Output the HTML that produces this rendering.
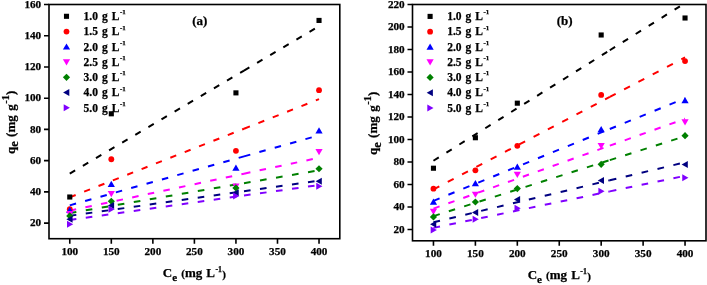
<!DOCTYPE html>
<html><head><meta charset="utf-8"><style>
html,body{margin:0;padding:0;background:#fff;}
svg{display:block;will-change:transform;}
text{font-family:"Liberation Serif",serif;font-weight:bold;fill:#000;stroke:#000;stroke-width:0.25px;}
</style></head><body>
<svg width="707" height="285" viewBox="0 0 707 285">
<rect width="707" height="285" fill="#fff"/>
<clipPath id="ca"><rect x="49.0" y="4.5" width="290.8" height="234.2"/></clipPath>
<g clip-path="url(#ca)" fill="none" stroke-width="2.0">
<line x1="69.77" y1="173.53" x2="244.00" y2="70.58" stroke="#000000" stroke-dasharray="6.24 8.98"/>
<line x1="244.00" y1="70.58" x2="319.03" y2="26.25" stroke="#000000" stroke-dasharray="6.24 8.98"/>
<line x1="69.77" y1="197.35" x2="244.00" y2="128.73" stroke="#ff0000" stroke-dasharray="6.33 9.11"/>
<line x1="244.00" y1="128.73" x2="319.03" y2="99.18" stroke="#ff0000" stroke-dasharray="6.33 9.11"/>
<line x1="69.77" y1="205.35" x2="244.00" y2="156.38" stroke="#0000ff" stroke-dasharray="6.54 9.41"/>
<line x1="244.00" y1="156.38" x2="319.03" y2="135.30" stroke="#0000ff" stroke-dasharray="6.54 9.41"/>
<line x1="69.77" y1="210.65" x2="244.00" y2="173.66" stroke="#ff00ff" stroke-dasharray="6.54 9.41"/>
<line x1="244.00" y1="173.66" x2="319.03" y2="157.73" stroke="#ff00ff" stroke-dasharray="6.54 9.41"/>
<line x1="69.77" y1="213.10" x2="244.00" y2="183.15" stroke="#008000" stroke-dasharray="6.66 9.58"/>
<line x1="244.00" y1="183.15" x2="319.03" y2="170.25" stroke="#008000" stroke-dasharray="6.66 9.58"/>
<line x1="69.77" y1="215.80" x2="244.00" y2="191.26" stroke="#000080" stroke-dasharray="6.62 9.53"/>
<line x1="244.00" y1="191.26" x2="319.03" y2="180.69" stroke="#000080" stroke-dasharray="6.62 9.53"/>
<line x1="69.77" y1="219.90" x2="244.00" y2="195.53" stroke="#8000ff" stroke-dasharray="6.62 9.53"/>
<line x1="244.00" y1="195.53" x2="319.03" y2="185.03" stroke="#8000ff" stroke-dasharray="6.62 9.53"/>
</g>
<rect x="67.22" y="194.46" width="5.1" height="5.1" fill="#000000"/>
<rect x="108.76" y="111.24" width="5.1" height="5.1" fill="#000000"/>
<rect x="233.39" y="90.32" width="5.1" height="5.1" fill="#000000"/>
<rect x="316.48" y="17.88" width="5.1" height="5.1" fill="#000000"/>
<circle cx="69.77" cy="209.19" r="2.9" fill="#ff0000"/>
<circle cx="111.31" cy="159.23" r="2.9" fill="#ff0000"/>
<circle cx="235.94" cy="150.80" r="2.9" fill="#ff0000"/>
<circle cx="319.03" cy="90.22" r="2.9" fill="#ff0000"/>
<polygon points="69.77,206.72 66.17,212.92 73.37,212.92" fill="#0000ff"/>
<polygon points="111.31,180.80 107.71,187.00 114.91,187.00" fill="#0000ff"/>
<polygon points="235.94,164.56 232.34,170.76 239.54,170.76" fill="#0000ff"/>
<polygon points="319.03,127.25 315.43,133.45 322.63,133.45" fill="#0000ff"/>
<polygon points="69.77,217.13 66.17,210.93 73.37,210.93" fill="#ff00ff"/>
<polygon points="111.31,197.14 107.71,190.94 114.91,190.94" fill="#ff00ff"/>
<polygon points="235.94,189.81 232.34,183.61 239.54,183.61" fill="#ff00ff"/>
<polygon points="319.03,155.14 315.43,148.94 322.63,148.94" fill="#ff00ff"/>
<polygon points="69.77,212.30 73.37,215.90 69.77,219.50 66.17,215.90" fill="#008000"/>
<polygon points="111.31,197.63 114.91,201.23 111.31,204.83 107.71,201.23" fill="#008000"/>
<polygon points="235.94,184.36 239.54,187.96 235.94,191.56 232.34,187.96" fill="#008000"/>
<polygon points="319.03,165.15 322.63,168.75 319.03,172.35 315.43,168.75" fill="#008000"/>
<polygon points="66.36,219.34 72.56,215.84 72.56,222.84" fill="#000080"/>
<polygon points="107.90,205.60 114.10,202.10 114.10,209.10" fill="#000080"/>
<polygon points="232.53,192.64 238.73,189.14 238.73,196.14" fill="#000080"/>
<polygon points="315.62,181.24 321.82,177.74 321.82,184.74" fill="#000080"/>
<polygon points="73.18,224.18 66.98,220.68 66.98,227.68" fill="#8000ff"/>
<polygon points="114.72,209.19 108.52,205.69 108.52,212.69" fill="#8000ff"/>
<polygon points="239.35,196.08 233.15,192.58 233.15,199.58" fill="#8000ff"/>
<polygon points="322.44,186.24 316.24,182.74 316.24,189.74" fill="#8000ff"/>
<rect x="49.0" y="4.5" width="290.80" height="234.20" fill="none" stroke="#000" stroke-width="1.6"/>
<path d="M69.77 238.7V243.70M111.31 238.7V243.70M152.86 238.7V243.70M194.40 238.7V243.70M235.94 238.7V243.70M277.49 238.7V243.70M319.03 238.7V243.70M49.0 223.09H44.00M49.0 191.86H44.00M49.0 160.63H44.00M49.0 129.41H44.00M49.0 98.18H44.00M49.0 66.95H44.00M49.0 35.73H44.00M49.0 4.50H44.00" stroke="#000" stroke-width="1.6" fill="none"/>
<text x="69.77" y="254.70" text-anchor="middle" font-size="11.2">100</text>
<text x="111.31" y="254.70" text-anchor="middle" font-size="11.2">150</text>
<text x="152.86" y="254.70" text-anchor="middle" font-size="11.2">200</text>
<text x="194.40" y="254.70" text-anchor="middle" font-size="11.2">250</text>
<text x="235.94" y="254.70" text-anchor="middle" font-size="11.2">300</text>
<text x="277.49" y="254.70" text-anchor="middle" font-size="11.2">350</text>
<text x="319.03" y="254.70" text-anchor="middle" font-size="11.2">400</text>
<text x="41.20" y="226.39" text-anchor="end" font-size="11.2">20</text>
<text x="41.20" y="195.16" text-anchor="end" font-size="11.2">40</text>
<text x="41.20" y="163.93" text-anchor="end" font-size="11.2">60</text>
<text x="41.20" y="132.71" text-anchor="end" font-size="11.2">80</text>
<text x="41.20" y="101.48" text-anchor="end" font-size="11.2">100</text>
<text x="41.20" y="70.25" text-anchor="end" font-size="11.2">120</text>
<text x="41.20" y="39.03" text-anchor="end" font-size="11.2">140</text>
<text x="41.20" y="7.80" text-anchor="end" font-size="11.2">160</text>
<text x="199.8" y="24.6" text-anchor="middle" font-size="13">(a)</text>
<text x="194.40" y="276.8" text-anchor="middle" font-size="13" word-spacing="0.9">C<tspan font-size="11.0" dy="4.0">e</tspan><tspan dy="-4.0"> </tspan><tspan font-size="11">(</tspan>mg L<tspan font-size="7.8" dy="-5" dx="0.4">-1</tspan><tspan dy="5.8" dx="0.4" font-size="11">)</tspan></text>
<text transform="translate(14.8 122.4) rotate(-90)" x="0" y="0" text-anchor="middle" font-size="13" word-spacing="1.2">q<tspan font-size="12.3" dy="3.4">e</tspan><tspan dy="-3.4"> (mg g</tspan><tspan font-size="10.5" dx="0.5" dy="-6.3">-1</tspan><tspan dy="6.3">)</tspan></text>
<rect x="63.95" y="13.75" width="5.1" height="5.1" fill="#000000"/>
<text x="83.6" y="20.10" font-size="11.5" word-spacing="1.1">1.0 g L<tspan font-size="6.9" dx="0.6" dy="-5.8">-1</tspan></text>
<circle cx="66.50" cy="31.55" r="2.9" fill="#ff0000"/>
<text x="83.6" y="35.35" font-size="11.5" word-spacing="1.1">1.5 g L<tspan font-size="6.9" dx="0.6" dy="-5.8">-1</tspan></text>
<polygon points="66.50,43.39 62.90,49.59 70.10,49.59" fill="#0000ff"/>
<text x="83.6" y="50.60" font-size="11.5" word-spacing="1.1">2.0 g L<tspan font-size="6.9" dx="0.6" dy="-5.8">-1</tspan></text>
<polygon points="66.50,65.46 62.90,59.26 70.10,59.26" fill="#ff00ff"/>
<text x="83.6" y="65.85" font-size="11.5" word-spacing="1.1">2.5 g L<tspan font-size="6.9" dx="0.6" dy="-5.8">-1</tspan></text>
<polygon points="66.50,73.70 70.10,77.30 66.50,80.90 62.90,77.30" fill="#008000"/>
<text x="83.6" y="81.10" font-size="11.5" word-spacing="1.1">3.0 g L<tspan font-size="6.9" dx="0.6" dy="-5.8">-1</tspan></text>
<polygon points="63.09,92.55 69.29,89.05 69.29,96.05" fill="#000080"/>
<text x="83.6" y="96.35" font-size="11.5" word-spacing="1.1">4.0 g L<tspan font-size="6.9" dx="0.6" dy="-5.8">-1</tspan></text>
<polygon points="69.91,107.80 63.71,104.30 63.71,111.30" fill="#8000ff"/>
<text x="83.6" y="111.60" font-size="11.5" word-spacing="1.1">5.0 g L<tspan font-size="6.9" dx="0.6" dy="-5.8">-1</tspan></text>
<clipPath id="cb"><rect x="412.5" y="4.5" width="293.5" height="236.3"/></clipPath>
<g clip-path="url(#cb)" fill="none" stroke-width="2.0">
<line x1="433.46" y1="160.73" x2="609.80" y2="50.25" stroke="#000000" stroke-dasharray="6.27 9.02"/>
<line x1="609.80" y1="50.25" x2="685.04" y2="3.11" stroke="#000000" stroke-dasharray="6.27 9.02"/>
<line x1="433.46" y1="189.35" x2="609.80" y2="96.90" stroke="#ff0000" stroke-dasharray="6.62 9.53"/>
<line x1="609.80" y1="96.90" x2="685.04" y2="57.45" stroke="#ff0000" stroke-dasharray="6.62 9.53"/>
<line x1="433.46" y1="200.82" x2="609.80" y2="128.98" stroke="#0000ff" stroke-dasharray="6.61 9.51"/>
<line x1="609.80" y1="128.98" x2="685.04" y2="98.33" stroke="#0000ff" stroke-dasharray="6.61 9.51"/>
<line x1="433.46" y1="208.60" x2="609.80" y2="145.65" stroke="#ff00ff" stroke-dasharray="6.49 9.33"/>
<line x1="609.80" y1="145.65" x2="685.04" y2="118.80" stroke="#ff00ff" stroke-dasharray="6.49 9.33"/>
<line x1="433.46" y1="216.13" x2="609.80" y2="160.12" stroke="#008000" stroke-dasharray="6.60 9.50"/>
<line x1="609.80" y1="160.12" x2="685.04" y2="136.22" stroke="#008000" stroke-dasharray="6.60 9.50"/>
<line x1="433.46" y1="222.24" x2="609.80" y2="180.26" stroke="#000080" stroke-dasharray="6.70 9.64"/>
<line x1="609.80" y1="180.26" x2="685.04" y2="162.34" stroke="#000080" stroke-dasharray="6.70 9.64"/>
<line x1="433.46" y1="227.88" x2="609.80" y2="191.37" stroke="#8000ff" stroke-dasharray="6.66 9.58"/>
<line x1="609.80" y1="191.37" x2="685.04" y2="175.80" stroke="#8000ff" stroke-dasharray="6.66 9.58"/>
</g>
<rect x="430.91" y="165.67" width="5.1" height="5.1" fill="#000000"/>
<rect x="472.84" y="135.18" width="5.1" height="5.1" fill="#000000"/>
<rect x="514.77" y="100.63" width="5.1" height="5.1" fill="#000000"/>
<rect x="598.63" y="32.44" width="5.1" height="5.1" fill="#000000"/>
<rect x="682.49" y="15.45" width="5.1" height="5.1" fill="#000000"/>
<circle cx="433.46" cy="188.70" r="2.9" fill="#ff0000"/>
<circle cx="475.39" cy="170.36" r="2.9" fill="#ff0000"/>
<circle cx="517.32" cy="145.83" r="2.9" fill="#ff0000"/>
<circle cx="601.18" cy="94.97" r="2.9" fill="#ff0000"/>
<circle cx="685.04" cy="61.10" r="2.9" fill="#ff0000"/>
<polygon points="433.46,198.57 429.86,204.77 437.06,204.77" fill="#0000ff"/>
<polygon points="475.39,180.00 471.79,186.20 478.99,186.20" fill="#0000ff"/>
<polygon points="517.32,163.46 513.72,169.66 520.92,169.66" fill="#0000ff"/>
<polygon points="601.18,125.99 597.58,132.19 604.78,132.19" fill="#0000ff"/>
<polygon points="685.04,96.96 681.44,103.16 688.64,103.16" fill="#0000ff"/>
<polygon points="433.46,215.07 429.86,208.87 437.06,208.87" fill="#ff00ff"/>
<polygon points="475.39,197.85 471.79,191.65 478.99,191.65" fill="#ff00ff"/>
<polygon points="517.32,177.93 513.72,171.73 520.92,171.73" fill="#ff00ff"/>
<polygon points="601.18,149.24 597.58,143.04 604.78,143.04" fill="#ff00ff"/>
<polygon points="685.04,125.38 681.44,119.18 688.64,119.18" fill="#ff00ff"/>
<polygon points="433.46,213.34 437.06,216.94 433.46,220.54 429.86,216.94" fill="#008000"/>
<polygon points="475.39,198.38 478.99,201.98 475.39,205.58 471.79,201.98" fill="#008000"/>
<polygon points="517.32,184.99 520.92,188.59 517.32,192.19 513.72,188.59" fill="#008000"/>
<polygon points="601.18,160.68 604.78,164.28 601.18,167.88 597.58,164.28" fill="#008000"/>
<polygon points="685.04,132.10 688.64,135.70 685.04,139.30 681.44,135.70" fill="#008000"/>
<polygon points="430.05,224.37 436.25,220.87 436.25,227.87" fill="#000080"/>
<polygon points="471.98,212.56 478.18,209.06 478.18,216.06" fill="#000080"/>
<polygon points="513.91,199.62 520.11,196.12 520.11,203.12" fill="#000080"/>
<polygon points="597.77,180.49 603.97,176.99 603.97,183.99" fill="#000080"/>
<polygon points="681.63,164.40 687.83,160.90 687.83,167.90" fill="#000080"/>
<polygon points="436.87,230.00 430.67,226.50 430.67,233.50" fill="#8000ff"/>
<polygon points="478.80,219.20 472.60,215.70 472.60,222.70" fill="#8000ff"/>
<polygon points="520.73,208.28 514.53,204.78 514.53,211.78" fill="#8000ff"/>
<polygon points="604.59,191.29 598.39,187.79 598.39,194.79" fill="#8000ff"/>
<polygon points="688.45,177.79 682.25,174.29 682.25,181.29" fill="#8000ff"/>
<rect x="412.5" y="4.5" width="293.50" height="236.30" fill="none" stroke="#000" stroke-width="1.6"/>
<path d="M433.46 240.8V245.80M475.39 240.8V245.80M517.32 240.8V245.80M559.25 240.8V245.80M601.18 240.8V245.80M643.11 240.8V245.80M685.04 240.8V245.80M412.5 229.55H407.50M412.5 207.04H407.50M412.5 184.54H407.50M412.5 162.03H407.50M412.5 139.53H407.50M412.5 117.02H407.50M412.5 94.52H407.50M412.5 72.01H407.50M412.5 49.51H407.50M412.5 27.00H407.50M412.5 4.50H407.50" stroke="#000" stroke-width="1.6" fill="none"/>
<text x="433.46" y="256.80" text-anchor="middle" font-size="11.2">100</text>
<text x="475.39" y="256.80" text-anchor="middle" font-size="11.2">150</text>
<text x="517.32" y="256.80" text-anchor="middle" font-size="11.2">200</text>
<text x="559.25" y="256.80" text-anchor="middle" font-size="11.2">250</text>
<text x="601.18" y="256.80" text-anchor="middle" font-size="11.2">300</text>
<text x="643.11" y="256.80" text-anchor="middle" font-size="11.2">350</text>
<text x="685.04" y="256.80" text-anchor="middle" font-size="11.2">400</text>
<text x="404.70" y="232.85" text-anchor="end" font-size="11.2">20</text>
<text x="404.70" y="210.34" text-anchor="end" font-size="11.2">40</text>
<text x="404.70" y="187.84" text-anchor="end" font-size="11.2">60</text>
<text x="404.70" y="165.33" text-anchor="end" font-size="11.2">80</text>
<text x="404.70" y="142.83" text-anchor="end" font-size="11.2">100</text>
<text x="404.70" y="120.32" text-anchor="end" font-size="11.2">120</text>
<text x="404.70" y="97.82" text-anchor="end" font-size="11.2">140</text>
<text x="404.70" y="75.31" text-anchor="end" font-size="11.2">160</text>
<text x="404.70" y="52.81" text-anchor="end" font-size="11.2">180</text>
<text x="404.70" y="30.30" text-anchor="end" font-size="11.2">200</text>
<text x="404.70" y="7.80" text-anchor="end" font-size="11.2">220</text>
<text x="564.7" y="24.6" text-anchor="middle" font-size="13">(b)</text>
<text x="559.25" y="278.8" text-anchor="middle" font-size="13" word-spacing="0.9">C<tspan font-size="11.0" dy="4.0">e</tspan><tspan dy="-4.0"> </tspan><tspan font-size="11">(</tspan>mg L<tspan font-size="7.8" dy="-5" dx="0.4">-1</tspan><tspan dy="5.8" dx="0.4" font-size="11">)</tspan></text>
<text transform="translate(377.3 123.4) rotate(-90)" x="0" y="0" text-anchor="middle" font-size="13" word-spacing="1.2">q<tspan font-size="12.3" dy="3.4">e</tspan><tspan dy="-3.4"> (mg g</tspan><tspan font-size="10.5" dx="0.5" dy="-6.3">-1</tspan><tspan dy="6.3">)</tspan></text>
<rect x="427.55" y="13.85" width="5.1" height="5.1" fill="#000000"/>
<text x="447.2" y="20.20" font-size="11.5" word-spacing="1.1">1.0 g L<tspan font-size="6.9" dx="0.6" dy="-5.8">-1</tspan></text>
<circle cx="430.10" cy="31.65" r="2.9" fill="#ff0000"/>
<text x="447.2" y="35.45" font-size="11.5" word-spacing="1.1">1.5 g L<tspan font-size="6.9" dx="0.6" dy="-5.8">-1</tspan></text>
<polygon points="430.10,43.49 426.50,49.69 433.70,49.69" fill="#0000ff"/>
<text x="447.2" y="50.70" font-size="11.5" word-spacing="1.1">2.0 g L<tspan font-size="6.9" dx="0.6" dy="-5.8">-1</tspan></text>
<polygon points="430.10,65.56 426.50,59.36 433.70,59.36" fill="#ff00ff"/>
<text x="447.2" y="65.95" font-size="11.5" word-spacing="1.1">2.5 g L<tspan font-size="6.9" dx="0.6" dy="-5.8">-1</tspan></text>
<polygon points="430.10,73.80 433.70,77.40 430.10,81.00 426.50,77.40" fill="#008000"/>
<text x="447.2" y="81.20" font-size="11.5" word-spacing="1.1">3.0 g L<tspan font-size="6.9" dx="0.6" dy="-5.8">-1</tspan></text>
<polygon points="426.69,92.65 432.89,89.15 432.89,96.15" fill="#000080"/>
<text x="447.2" y="96.45" font-size="11.5" word-spacing="1.1">4.0 g L<tspan font-size="6.9" dx="0.6" dy="-5.8">-1</tspan></text>
<polygon points="433.51,107.90 427.31,104.40 427.31,111.40" fill="#8000ff"/>
<text x="447.2" y="111.70" font-size="11.5" word-spacing="1.1">5.0 g L<tspan font-size="6.9" dx="0.6" dy="-5.8">-1</tspan></text>
</svg>
</body></html>
